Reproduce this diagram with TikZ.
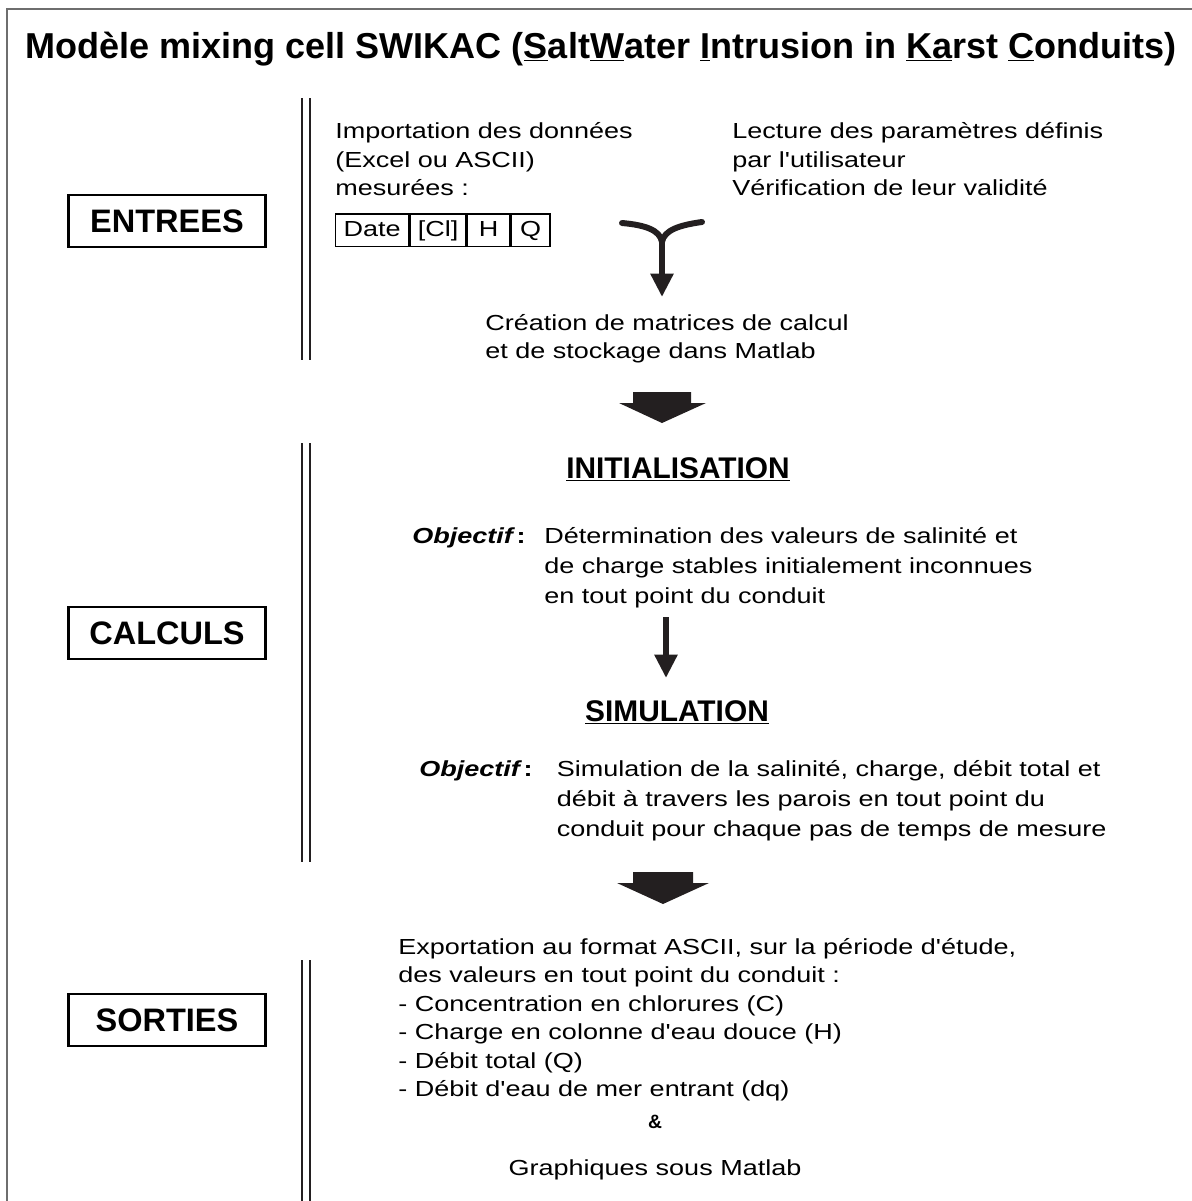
\documentclass[tikz,border=0pt]{standalone}
\usepackage{fontspec}
\setmainfont{Liberation Sans}
\newfontfamily\bodyfont{Liberation Sans}[FakeStretch=1.24]
\usepackage{tikz}
\usetikzlibrary{positioning,arrows.meta}
\definecolor{ink}{HTML}{231F20}
\definecolor{framegray}{HTML}{6E6E6E}
\tikzset{
  frame/.style={draw=framegray, line width=1.1pt},
  rule/.style={draw=ink, line width=1.6pt},
  stage/.style={draw=black, line width=1.3pt, minimum width=3.94cm, minimum height=1.04cm, inner sep=0pt,
    font=\bfseries\fontsize{18.5}{20}\selectfont},
  body/.style={anchor=north west, align=left, inner sep=0pt, font=\bodyfont\fontsize{12.4}{16.2}\selectfont},
  bodywide/.style={body, font=\bodyfont\fontsize{12.4}{17}\selectfont},
  objlab/.style={anchor=base west, inner sep=0pt, font=\bodyfont\fontsize{12.4}{14}\selectfont},
  head/.style={anchor=base, inner sep=0pt, font=\bfseries\fontsize{17}{18}\selectfont},
  cell/.style={draw=black, line width=0.85pt, minimum height=0.66cm, inner sep=0pt,
    text height=0.72em, text depth=0pt, font=\bodyfont\fontsize{12.4}{14}\selectfont},
  flow/.style={draw=ink, line width=3.4pt, -{Triangle[width=0.44cm,length=0.47cm]}},
  fork/.style={draw=ink, line width=3.4pt, line cap=round},
  bigarrow/.style={fill=ink, draw=none},
}
\newcommand{\obj}{{\bfseries\itshape Objectif}\,{\bfseries :}}

\begin{document}
\begin{tikzpicture}[x=0.02cm, y=-0.02cm]
  \useasboundingbox (0,0) rectangle (1192,1201);
  \draw[frame] (7,1210) -- (7,9) -- (1200,9);

  % title
  \node[anchor=base, inner sep=0pt, font=\bfseries\fontsize{20.5}{24}\selectfont] (title) at (601,58)
    {Modèle mixing cell SWIKAC (\underline{S}alt\underline{W}ater \underline{I}ntrusion in \underline{Ka}rst \underline{C}onduits)};

  % stages on the left
  \node[stage] (entrees) at (167,221) {ENTREES};
  \node[stage] (calculs) at (167,633) {CALCULS};
  \node[stage] (sorties) at (167,1020) {SORTIES};

  \foreach \ya/\yb in {98/360, 443/862, 960/1210} {
    \draw[rule] (302,\ya) -- (302,\yb);
    \draw[rule] (310,\ya) -- (310,\yb);
  }

  % inputs
  \node[body] (import) at (335,122.5) {Importation des données\\(Excel ou ASCII)\\mesurées :};
  \node[cell, minimum width=1.46cm, anchor=north west] (cDate) at (335,213) {Date};
  \node[cell, minimum width=1.12cm, right=0pt of cDate] (cCl) {[Cl]};
  \node[cell, minimum width=0.84cm, right=0pt of cCl] (cH) {H};
  \node[cell, minimum width=0.78cm, right=0pt of cH] (cQ) {Q};
  \node[body] (lecture) at (732,122.5) {Lecture des paramètres définis\\par l'utilisateur\\Vérification de leur validité};

  \coordinate (armL) at (622,223);
  \coordinate (armR) at (702,222);
  \coordinate (forkpt) at (662,242);
  \node[body] (matrices) at (485,314) {Création de matrices de calcul\\et de stockage dans Matlab};
  \coordinate (forktip) at (662,297);
  \draw[fork] (armL) .. controls (645,225) and (660,230) .. (forkpt);
  \draw[fork] (armR) .. controls (680,225) and (664,230) .. (forkpt);
  \draw[flow] (forkpt) -- (forktip);

  \fill[bigarrow] (633,392) -- (691,392) -- (691,403) -- (706,403) -- (662,423) -- (619,403) -- (633,403) -- cycle;

  % computations
  \node[head] (init) at (678,478) {\underline{INITIALISATION}};
  \node[objlab] (obj1) at (412,543) {\obj};
  \node[bodywide] (determ) at (544,527.5) {Détermination des valeurs de salinité et\\de charge stables initialement inconnues\\en tout point du conduit};

  \coordinate (initEnd) at (666,617);
  \coordinate (simTop) at (666,678);
  \draw[flow] (initEnd) -- (simTop);

  \node[head] (simul) at (677,721) {\underline{SIMULATION}};
  \node[objlab] (obj2) at (419,776) {\obj};
  \node[bodywide] (simtext) at (556.5,760.5) {Simulation de la salinité, charge, débit total et\\débit à travers les parois en tout point du\\conduit pour chaque pas de temps de mesure};

  \fill[bigarrow] (633,872) -- (693,872) -- (693,883) -- (709,883) -- (663,904) -- (617,883) -- (633,883) -- cycle;

  % outputs
  \node[body] (export) at (398,938) {Exportation au format ASCII, sur la période d'étude,\\des valeurs en tout point du conduit :\\- Concentration en chlorures (C)\\- Charge en colonne d'eau douce (H)\\- Débit total (Q)\\- Débit d'eau de mer entrant (dq)};
  \node[inner sep=0pt, font=\bfseries\fontsize{11}{12}\selectfont] (amp) at (655,1122) {\&};
  \node[inner sep=0pt, font=\bodyfont\fontsize{12.4}{14}\selectfont] (graph) at (655,1170) {Graphiques sous Matlab};
\end{tikzpicture}
\end{document}
